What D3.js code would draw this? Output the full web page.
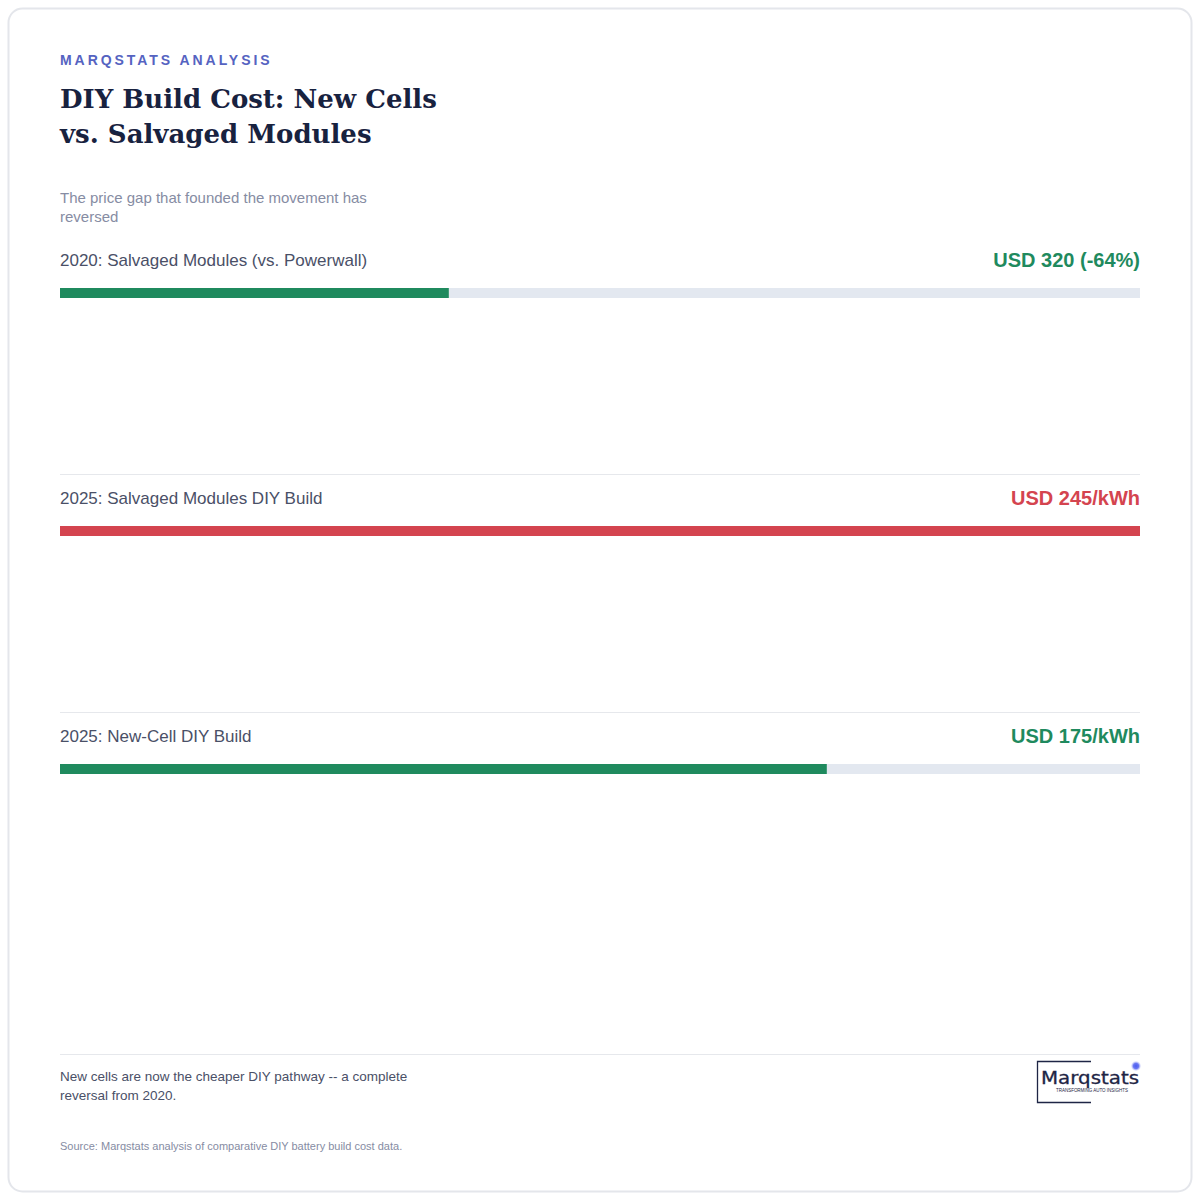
<!DOCTYPE html>
<html>
<head>
<meta charset="utf-8">
<script src="https://cdn.jsdelivr.net/npm/d3@7"></script>
<style>
  html, body { margin: 0; padding: 0; background: #ffffff; }
  svg { display: block; }
</style>
</head>
<body>
<svg id="chart" width="1200" height="1200"></svg>
<script>
// ---- data ----
const categories = [
  "2020: Salvaged Modules (vs. Powerwall)",
  "2025: Salvaged Modules DIY Build",
  "2025: New-Cell DIY Build"
];
const valueLabels = ["USD 320 (-64%)", "USD 245/kWh", "USD 175/kWh"];
const barShare = [36, 100, 71];          // percent of track filled
const seriesStatus = ["good", "bad", "good"];
const kicker = "MARQSTATS ANALYSIS";
const titleLines = ["DIY Build Cost: New Cells", "vs. Salvaged Modules"];
const subtitleLines = ["The price gap that founded the movement has", "reversed"];
const noteLines = ["New cells are now the cheaper DIY pathway -- a complete", "reversal from 2020."];
const sourceText = "Source: Marqstats analysis of comparative DIY battery build cost data.";

// ---- drawing ----
const svg = d3.select("#chart");
const colors = { good: "#1f8a5e", bad: "#d4444f" };
const sans = "'Liberation Sans', Arial, sans-serif";

svg.append("rect")
  .attr("x", 8.5).attr("y", 8.5).attr("width", 1183).attr("height", 1183)
  .attr("rx", 14).attr("fill", "#fff")
  .attr("stroke", "#e4e6eb").attr("stroke-width", 2);

svg.append("text").attr("x", 60).attr("y", 65)
  .attr("font-family", sans).attr("font-size", 14).attr("font-weight", 700)
  .attr("letter-spacing", 2.95).attr("fill", "#5563c1").text(kicker);

svg.append("g").selectAll("text").data(titleLines).join("text")
  .attr("x", 60).attr("y", (d, i) => 108 + i * 35)
  .attr("font-family", "'DejaVu Serif', serif").attr("font-weight", 700)
  .attr("font-size", 26).attr("fill", "#18223f").text(d => d);

svg.append("g").selectAll("text").data(subtitleLines).join("text")
  .attr("x", 60).attr("y", (d, i) => 203 + i * 19)
  .attr("font-family", sans).attr("font-size", 15).attr("fill", "#868ca3").text(d => d);

const x = d3.scaleLinear().domain([0, 100]).range([60, 1140]);
const rowY = d3.scaleBand().domain(d3.range(categories.length)).range([236, 950]).paddingInner(0);

const rows = svg.append("g").selectAll("g").data(categories).join("g")
  .attr("transform", (d, i) => `translate(0, ${rowY(i)})`);

rows.filter((d, i) => i > 0).append("line")
  .attr("x1", 60).attr("x2", 1140).attr("y1", 0.5).attr("y2", 0.5)
  .attr("stroke", "#e6e8ec").attr("stroke-width", 1);

rows.append("text").attr("x", 60).attr("y", 30)
  .attr("font-family", sans).attr("font-size", 17).attr("fill", "#4a5067")
  .text(d => d);

rows.append("text").attr("x", 1140).attr("y", 31).attr("text-anchor", "end")
  .attr("font-family", sans).attr("font-size", 20).attr("font-weight", 700)
  .attr("fill", (d, i) => colors[seriesStatus[i]])
  .text((d, i) => valueLabels[i]);

rows.append("rect").attr("x", x(0)).attr("y", 52)
  .attr("width", x(100) - x(0)).attr("height", 10).attr("fill", "#e3e8f0");

rows.append("rect").attr("x", x(0)).attr("y", 52)
  .attr("width", (d, i) => x(barShare[i]) - x(0)).attr("height", 10)
  .attr("fill", (d, i) => colors[seriesStatus[i]]);

// footer
svg.append("line").attr("x1", 60).attr("x2", 1140).attr("y1", 1054.5).attr("y2", 1054.5)
  .attr("stroke", "#e6e8ec");

svg.append("g").selectAll("text").data(noteLines).join("text")
  .attr("x", 60).attr("y", (d, i) => 1081 + i * 19)
  .attr("font-family", sans).attr("font-size", 13.5).attr("fill", "#4a5067").text(d => d);

svg.append("text").attr("x", 60).attr("y", 1150)
  .attr("font-family", sans).attr("font-size", 11).attr("fill", "#868ca3").text(sourceText);

// logo
const logo = svg.append("g");
logo.append("path").attr("d", "M1091,1061.5 H1037.5 V1102.5 H1091")
  .attr("fill", "none").attr("stroke", "#1e2545").attr("stroke-width", 1.3);
const defs = svg.append("defs");
const rg = defs.append("radialGradient").attr("id", "glow");
rg.append("stop").attr("offset", "0%").attr("stop-color", "#4b5cf0");
rg.append("stop").attr("offset", "55%").attr("stop-color", "#6b78f2");
rg.append("stop").attr("offset", "100%").attr("stop-color", "#c9cdfa").attr("stop-opacity", 0.2);
logo.append("circle").attr("cx", 1136).attr("cy", 1066).attr("r", 5).attr("fill", "url(#glow)");
logo.append("text").attr("x", 1041).attr("y", 1084)
  .attr("font-family", "'DejaVu Sans', sans-serif").attr("font-size", 17).attr("font-weight", 400)
  .attr("fill", "#1e2545").attr("stroke", "#1e2545").attr("stroke-width", 0.3)
  .attr("textLength", 98).attr("lengthAdjust", "spacingAndGlyphs").text("Marqstats");
logo.append("text").attr("x", 1056).attr("y", 1092)
  .attr("font-family", sans).attr("font-size", 4.5)
  .attr("fill", "#1e2545").attr("textLength", 72).text("TRANSFORMING AUTO INSIGHTS");
</script>
</body>
</html>
